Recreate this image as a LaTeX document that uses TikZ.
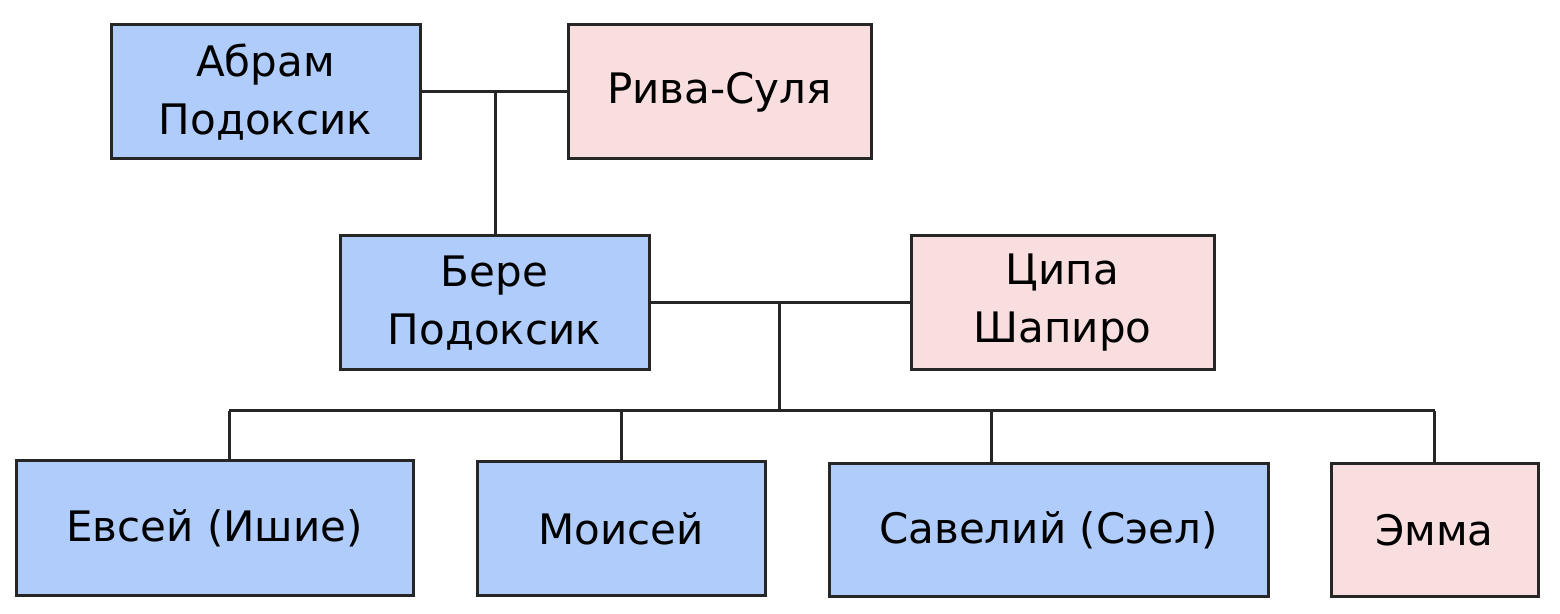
\documentclass[tikz,border=0pt]{standalone}
\usepackage{fontspec}
\setmainfont{DejaVu Sans}
\begin{document}
\begin{tikzpicture}[x=0.5pt,y=-0.5pt,
  person/.style={draw=black!85,line width=1.5pt,inner sep=0pt,align=center,font=\fontsize{21}{29}\selectfont},
  male/.style={person,fill=blue!30!cyan!8!white,fill={rgb,255:red,176;green,204;blue,250}},
  female/.style={person,fill={rgb,255:red,248;green,222;blue,222}},
  link/.style={draw=black!85,line width=1.5pt}]
\useasboundingbox (0,0) rectangle (1560,614);
\node[male,minimum width=154.5pt,minimum height=67pt] (abram) at (265.5,92) {Абрам\\Подоксик};
\node[female,minimum width=151.5pt,minimum height=67pt] (riva) at (719.5,92) {Рива-Суля};
\node[male,minimum width=154.5pt,minimum height=67pt] (bere) at (494.5,303) {Бере\\Подоксик};
\node[female,minimum width=151.5pt,minimum height=67pt] (tsipa) at (1062.5,303) {Ципа\\Шапиро};
\node[male,minimum width=198.5pt,minimum height=67.5pt] (evsei) at (214.5,528.5) {Евсей (Ишие)};
\node[male,minimum width=144pt,minimum height=67pt] (moisei) at (621,529) {Моисей};
\node[male,minimum width=219.5pt,minimum height=66.5pt] (savely) at (1048.5,530.5) {Савелий (Сэел)};
\node[female,minimum width=103.5pt,minimum height=66.5pt] (emma) at (1434.5,530.5) {Эмма};
\coordinate (m1) at (495,92);
\coordinate (m2) at (779,303);
\coordinate (h) at (779,411);
\draw[link] (abram.east) -- (riva.west);
\draw[link] (m1) -- (bere.north -| m1);
\draw[link] (bere.east) -- (tsipa.west);
\draw[link] (m2) -- (h);
\draw[link] (229,411) -- (1435,411);
\draw[link] (229,411) -- (evsei.north -| 229,0);
\draw[link] (moisei.north |- h) -- (moisei.north);
\draw[link] (991,411) -- (savely.north -| 991,0);
\draw[link] (emma.north |- h) -- (emma.north);
\end{tikzpicture}
\end{document}
